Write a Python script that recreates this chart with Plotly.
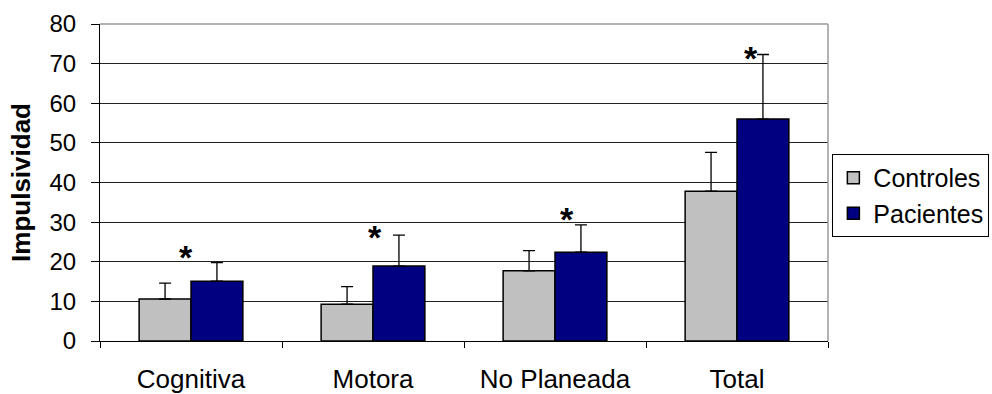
import plotly.graph_objects as go

categories = ["Cognitiva", "Motora", "No Planeada", "Total"]
controles = [10.6, 9.3, 17.7, 37.8]
controles_err = [4.0, 4.4, 5.1, 9.8]
pacientes = [15.1, 18.9, 22.4, 56.0]
pacientes_err = [4.7, 7.8, 6.9, 16.3]
star_y = [21.1, 26.2, 30.7, 71.5]
star_shift = [-5, 2, 12, 14]
y_ticks = [0, 10, 20, 30, 40, 50, 60, 70, 80]

FONT = "Arial, Liberation Sans, sans-serif"

fig = go.Figure()
fig.add_trace(go.Bar(
    name="Controles", x=categories, y=controles,
    marker=dict(color="#C0C0C0", line=dict(color="black", width=1.5)),
    error_y=dict(type="data", array=controles_err, symmetric=False,
                 arrayminus=[0]*len(controles), color="black", thickness=1.3, width=6),
))
fig.add_trace(go.Bar(
    name="Pacientes", x=categories, y=pacientes,
    marker=dict(color="#000080", line=dict(color="black", width=1.5)),
    error_y=dict(type="data", array=pacientes_err, symmetric=False,
                 arrayminus=[0]*len(pacientes), color="black", thickness=1.3, width=6),
))

for c, sy, sh in zip(categories, star_y, star_shift):
    fig.add_annotation(x=c, y=sy, text="<b>*</b>", showarrow=False, xshift=sh,
                       font=dict(family=FONT, size=34, color="black"),
                       yanchor="middle")

fig.update_layout(
    width=992, height=394,
    margin=dict(l=100, r=164, t=24, b=53, autoexpand=False),
    paper_bgcolor="white", plot_bgcolor="white",
    barmode="group", bargap=0.43, bargroupgap=0,
    font=dict(family=FONT, size=23, color="black"),
    legend=dict(x=1.006, y=0.59, xanchor="left", yanchor="top",
                bordercolor="black", borderwidth=1, bgcolor="white",
                font=dict(size=25), tracegroupgap=0, itemwidth=30),
    showlegend=True,
)
fig.update_xaxes(
    automargin=False,
    showline=True, linecolor="black", linewidth=1.2, mirror=False,
    ticks="outside", tickson="boundaries", ticklen=6, tickcolor="black",
    showgrid=False, tickfont=dict(size=26), ticklabelstandoff=15,
)
fig.update_yaxes(
    automargin=False,
    range=[0, 80], tickvals=y_ticks, showline=True, linecolor="black", linewidth=1.2,
    ticks="outside", ticklen=8, tickcolor="black",
    showgrid=True, gridcolor="#222222", gridwidth=1,
    zeroline=False, tickfont=dict(size=24), ticklabelstandoff=10,
    title=dict(text="<b>Impulsividad</b>", font=dict(size=26), standoff=11),
)
fig.add_shape(type="line", xref="paper", yref="paper", x0=0, x1=1, y0=1, y1=1,
              line=dict(color="#999999", width=1.5))
fig.add_shape(type="line", xref="paper", yref="paper", x0=1, x1=1, y0=0, y1=1,
              line=dict(color="#999999", width=1.5))

fig.write_html("out.html", post_script="document.body.style.margin='0';",
               config={"displayModeBar": False})
